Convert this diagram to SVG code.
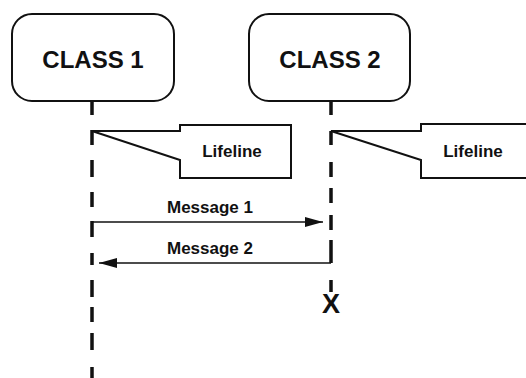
<svg xmlns="http://www.w3.org/2000/svg" width="526" height="378" viewBox="0 0 526 378">
  <style>
    .box { fill: #ffffff; stroke: #111111; stroke-width: 2; }
    .note { fill: #ffffff; stroke: #111111; stroke-width: 2; stroke-linejoin: miter; }
    .title { font-family: "Liberation Sans", Arial, sans-serif; font-weight: bold; font-size: 24px; fill: #111111; text-anchor: middle; }
    .label { font-family: "Liberation Sans", Arial, sans-serif; font-weight: bold; font-size: 17px; fill: #111111; text-anchor: middle; }
    .life { fill: none; stroke: #111111; stroke-width: 3.5; }
    .msg { fill: none; stroke: #111111; stroke-width: 1.6; }
    .destroy { font-family: "Liberation Sans", Arial, sans-serif; font-weight: bold; font-size: 27px; fill: #111111; text-anchor: middle; }
  </style>
  <defs>
    <marker id="arrow" viewBox="0 0 18 10" refX="18" refY="5" markerWidth="18" markerHeight="10" markerUnits="userSpaceOnUse" orient="auto">
      <path d="M0,0 L18,5 L0,10 Z" fill="#111111"/>
    </marker>
  </defs>
  <rect width="526" height="378" fill="#ffffff"/>

  <!-- object boxes -->
  <g id="class1">
    <rect class="box" x="12" y="14" width="162" height="87" rx="20" ry="20"/>
    <text class="title" x="93" y="68">CLASS 1</text>
  </g>
  <g id="class2">
    <rect class="box" x="249" y="14" width="161" height="87" rx="20" ry="20"/>
    <text class="title" x="330" y="68">CLASS 2</text>
  </g>

  <!-- lifeline callouts -->
  <g id="note1">
    <path class="note" d="M92,131 L180,131 L180,125 L291,125 L291,178 L180,178 L180,160 Z"/>
    <text class="label" x="232" y="157">Lifeline</text>
  </g>
  <g id="note2">
    <path class="note" d="M331,131 L421,131 L421,124 L540,124 L540,178 L421,178 L421,160 Z"/>
    <text class="label" x="473" y="157">Lifeline</text>
  </g>

  <!-- lifelines and messages -->
  <g id="connectors">
    <path class="life" d="M92,101 V115 M92,130 V145 M92,160 V177 M92,192 V207 M92,221 V237 M92,253 V265 M92,280 V297 M92,307 V322 M92,333 V350 M92,367 V378"/>
    <path class="life" d="M331,101 V115 M331,131 V145 M331,162 V177 M331,188 V203 M331,215 V230 M331,240 V263 M331,280 V292"/>
    <line class="msg" x1="92" y1="222" x2="323" y2="222" marker-end="url(#arrow)"/>
    <line class="msg" x1="331" y1="263" x2="99" y2="263" marker-end="url(#arrow)"/>
    <text class="label" x="210" y="213">Message 1</text>
    <text class="label" x="210" y="254">Message 2</text>
  </g>

  <!-- end of CLASS 2 lifeline -->
  <g id="destroy">
    <text class="destroy" x="331" y="313">X</text>
  </g>
</svg>
